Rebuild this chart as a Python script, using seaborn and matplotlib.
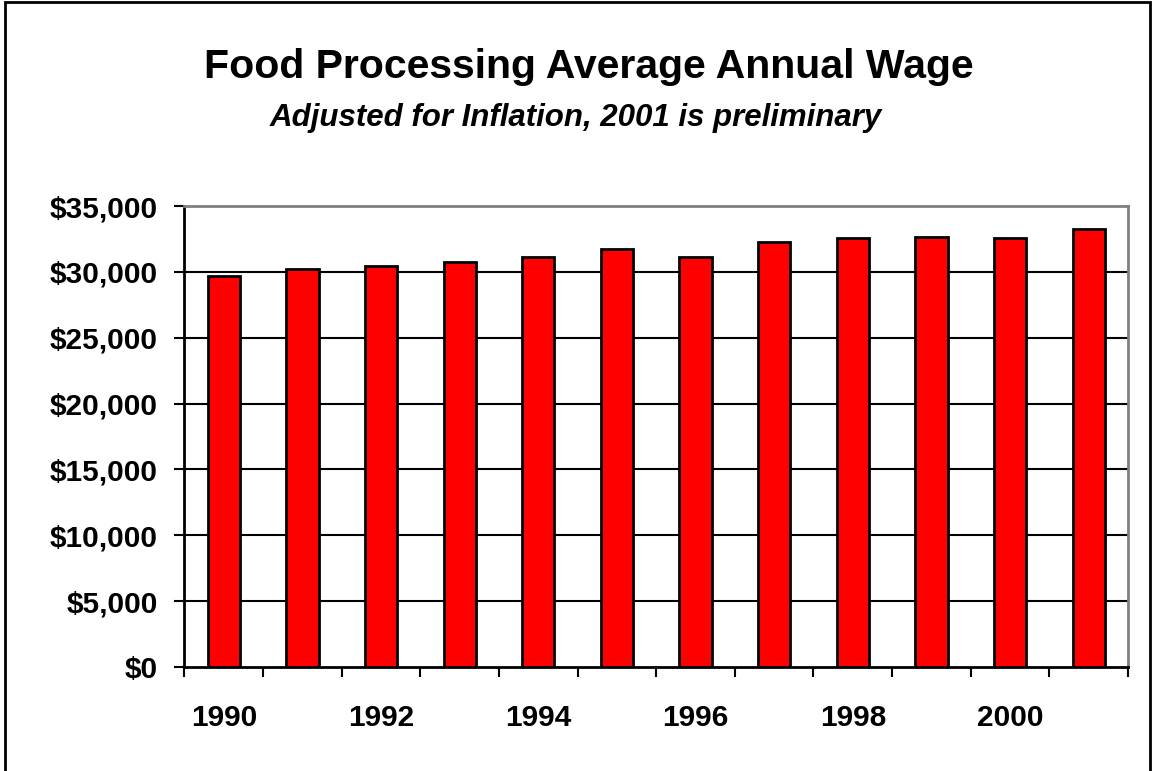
import matplotlib
matplotlib.use("Agg")
import matplotlib.pyplot as plt
from matplotlib.patches import Rectangle
from matplotlib.ticker import FuncFormatter, FixedLocator, NullFormatter
import seaborn as sns
import pandas as pd

years = [1990, 1991, 1992, 1993, 1994, 1995, 1996, 1997, 1998, 1999, 2000, 2001]
wages = [29720, 30180, 30460, 30760, 31160, 31720, 31140, 32230, 32580, 32630, 32550, 33260]
label_years = ["1990", "1992", "1994", "1996", "1998", "2000"]
y_ticks = [0, 5000, 10000, 15000, 20000, 25000, 30000, 35000]

title = "Food Processing Average Annual Wage"
subtitle = "Adjusted for Inflation, 2001 is preliminary"

sns.set_style("white")
plt.rcParams["font.family"] = ["Liberation Sans", "DejaVu Sans"]
plt.rcParams["font.weight"] = "bold"
for key in ["text.color", "axes.labelcolor", "xtick.color", "ytick.color"]:
    plt.rcParams[key] = "black"

df = pd.DataFrame({"year": [str(y) for y in years], "wage": wages})

fig = plt.figure(figsize=(11.53, 7.71), dpi=100)
ax = fig.add_axes([0.16, 0.1349, 0.9783 - 0.16, 0.7328 - 0.1349])

sns.barplot(data=df, x="year", y="wage", color="#FF0000", saturation=1,
            edgecolor="black", linewidth=2, width=0.41, ax=ax, zorder=3)

# horizontal gridlines
for v in y_ticks[1:-1]:
    ax.axhline(v, color="black", linewidth=1.5, zorder=1)

ax.set_ylim(0, 35000)
ax.set_xlim(-0.5, len(years) - 0.5)
ax.set_xlabel("")
ax.set_ylabel("")

# y axis
ax.yaxis.set_major_locator(FixedLocator(y_ticks))
ax.yaxis.set_major_formatter(FuncFormatter(lambda v, p: f"${v:,.0f}"))
ax.tick_params(axis="y", which="major", direction="out", length=7.5, width=1.5,
               color="black", labelcolor="black", pad=11.5, labelsize=21.5, left=True)

# x axis: ticks between categories, labels on every other category
ax.xaxis.set_major_locator(FixedLocator([i - 0.5 for i in range(len(years) + 1)]))
ax.xaxis.set_major_formatter(NullFormatter())
label_pos = [years.index(int(y)) for y in label_years]
ax.xaxis.set_minor_locator(FixedLocator(label_pos))
ax.set_xticklabels(label_years, minor=True)
ax.tick_params(axis="x", which="major", direction="out", length=7.5, width=1.5,
               color="black", bottom=True)
ax.tick_params(axis="x", which="minor", length=0, pad=27, labelsize=21.5,
               labelcolor="black", bottom=True)
for lab in ax.get_xticklabels(minor=True) + ax.get_yticklabels():
    lab.set_fontweight("bold")

for side in ["left", "bottom"]:
    ax.spines[side].set_color("black")
    ax.spines[side].set_linewidth(2)
    ax.spines[side].set_visible(True)
for side in ["top", "right"]:
    ax.spines[side].set_color("#808080")
    ax.spines[side].set_linewidth(2)
    ax.spines[side].set_visible(True)

fig.text(0.5104, 1 - 78 / 771, title, ha="center", va="baseline",
         fontsize=29.5, fontweight="bold", color="black")
fig.text(0.4991, 1 - 126 / 771, subtitle, ha="center", va="baseline",
         fontsize=22.5, fontweight="bold", fontstyle="italic", color="black")

# outer frame
fig.patches.append(Rectangle((5 / 1153, -0.1), (1150 - 5) / 1153, 1.1 - 2 / 771,
                             transform=fig.transFigure, fill=False,
                             edgecolor="black", linewidth=2, clip_on=False))

fig.savefig("out.png", dpi=100)
